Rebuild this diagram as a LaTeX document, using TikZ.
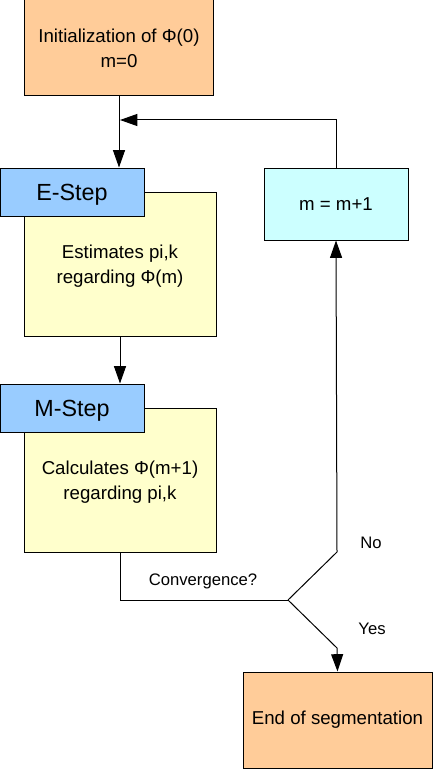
\documentclass[tikz,border=0pt]{standalone}
\usepackage{fontspec}
\setmainfont{Liberation Sans}
\usetikzlibrary{positioning, arrows.meta}

\definecolor{boxorange}{HTML}{FFCC99}
\definecolor{boxblue}{HTML}{99CCFF}
\definecolor{boxyellow}{HTML}{FFFFCC}
\definecolor{boxcyan}{HTML}{CCFFFF}

\begin{document}
\begin{tikzpicture}[x=0.75pt, y=-0.75pt, line width=0.75pt,
  block/.style={draw, inner sep=0pt, align=center, font=\fontsize{14}{19}\selectfont},
  head/.style={block, fill=boxblue, minimum width=108pt, minimum height=36pt, text depth=0pt, font=\fontsize{17.5}{20}\selectfont},
  body/.style={block, fill=boxyellow, minimum width=144pt, minimum height=108pt, text depth=0pt},
  flow/.style={-{Triangle[length=13pt, width=9pt]}},
  tag/.style={font=\fontsize{12.5}{14}\selectfont}]

\useasboundingbox (0,0) rectangle (434,770);

\node[block, fill=boxorange, minimum width=141.75pt, minimum height=72pt] (init) at (119, 48) {Initialization of Φ(0)\\m=0};

\node[body] (ebody) at (120, 264) {Estimates pi,k\\regarding Φ(m)};
\node[head] (estep) at (72, 192) {E-Step};

\node[body] (mbody) at (120, 480) {Calculates Φ(m+1)\\regarding pi,k};
\node[head] (mstep) at (72, 408) {M-Step};

\node[block, fill=boxcyan, minimum width=108pt, minimum height=54pt] (inc) at (336, 204) {m = m+1};
\node[block, fill=boxorange, minimum width=141.75pt, minimum height=72pt] (done) at (337.5, 720) {End of segmentation};

\coordinate (merge) at (120, 120);
\coordinate (split) at (288, 600);
\coordinate (up) at (337, 552);
\coordinate (down) at (337, 648);

\draw[flow] (init.south) -- (init.south |- estep.north);
\draw[flow] (inc.north) |- (merge);
\draw[flow] (ebody.south) -- (ebody.south |- mstep.north);

\draw (mbody.south) |- (split);
\draw[flow] (split) -- (up) -- (inc.south);
\draw[flow] (split) -- (down) -- (done.north);

\node[tag] (conv) at (203, 581) {Convergence?};
\node[tag] (no) at (371, 543) {No};
\node[tag] (yes) at (372, 629) {Yes};

\end{tikzpicture}
\end{document}
